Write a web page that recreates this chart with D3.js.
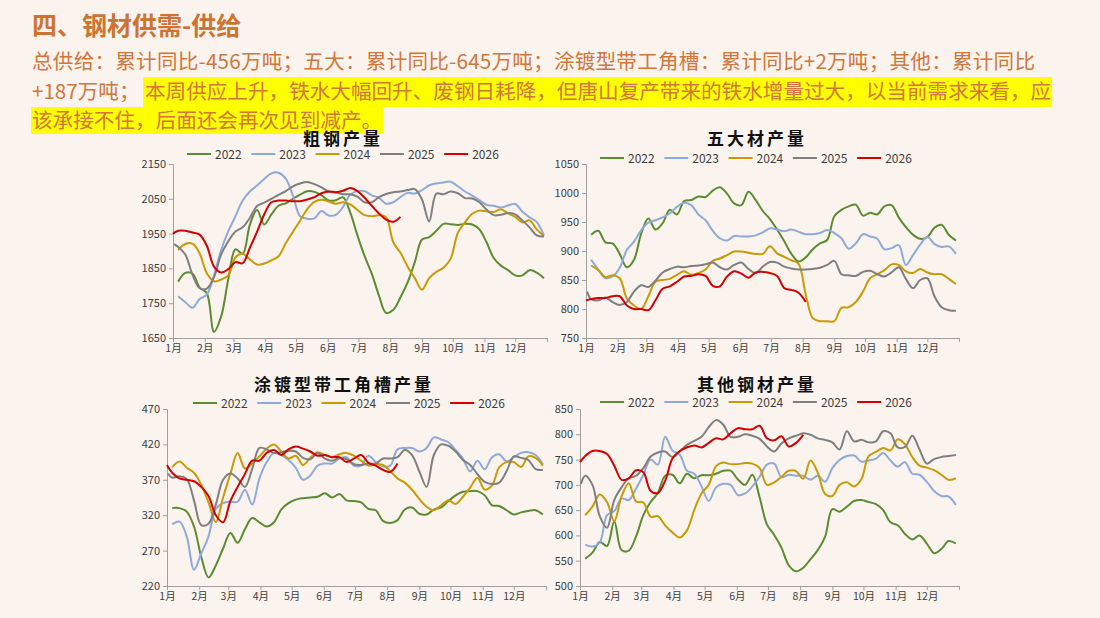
<!DOCTYPE html>
<html><head><meta charset="utf-8">
<script src="https://cdn.jsdelivr.net/npm/d3@7"></script>
<style>
html,body{margin:0;padding:0;background:#FBF3EE;}
svg{display:block;}
text{font-family:"Noto Sans CJK SC","Noto Sans",sans-serif;}
</style></head><body>
<svg id="c" width="1100" height="618"></svg>
<script>
// ---------- categories ----------
const years = ["2022","2023","2024","2025","2026"];
const monthLabels = ["1月","2月","3月","4月","5月","6月","7月","8月","9月","10月","11月","12月"];
const monthStartDays = [0,31,59,90,120,151,181,212,243,273,304,334,365];
// weekly observation day-of-year
const weekDays = [5,12,19,26,33,40,47,54,61,68,75,82,89,96,103,110,117,124,131,138,145,152,159,166,173,180,187,194,201,208,215,222,229,236,243,250,257,264,271,278,285,292,299,306,313,320,327,334,341,348,355,362];
// 2025 series has an extra first reading on day 1, 2026 on day 0
const weekDays2025 = [1,5,12,19,26,33,40,47,54,61,68,75,82,89,96,103,110,117,124,131,138,145,152,159,166,173,180,187,194,201,208,215,222,229,236,243,250,257,264,271,278,285,292,299,306,313,320,327,334,341,348,355,362];
const weekDays2026 = [0,5,12,19,26,33,40,47,54,61,68,75,82,89,96,103,110,117,124,131,138,145,152,159,166,173,180,187,194,201,208,215,222];

// ---------- 粗钢产量 ----------
const cs2022 = [1812,1837,1835,1795,1779,1668,1712,1820,1905,1892,1975,2018,1976,2005,2030,2037,2050,2062,2072,2070,2060,2045,2046,2054,2010,1945,1885,1835,1772,1722,1731,1767,1810,1868,1933,1940,1958,1978,1977,1975,1978,1976,1962,1925,1880,1858,1845,1830,1830,1845,1838,1822];
const cs2023 = [1770,1753,1737,1762,1775,1830,1903,1957,2000,2045,2071,2088,2107,2123,2125,2108,2060,2000,1993,1994,2015,2002,2004,2027,2062,2072,2072,2060,2053,2036,2040,2055,2067,2065,2075,2089,2094,2097,2099,2086,2071,2059,2046,2033,2030,2025,2031,2035,2013,1997,1983,1945];
const cs2024 = [1903,1920,1921,1893,1836,1813,1818,1830,1882,1892,1876,1861,1864,1873,1885,1922,1955,1987,2020,2041,2047,2042,2036,2040,2034,2018,2003,2000,2003,1997,1925,1895,1855,1822,1789,1822,1840,1852,1878,1952,1982,2007,2016,2014,2012,2020,2008,1998,1982,1988,1962,1943];
const cs2025 = [1920,1912,1890,1832,1793,1792,1825,1890,1928,1956,1968,1995,2029,2039,2050,2061,2072,2086,2094,2098,2092,2083,2071,2068,2063,2063,2056,2040,2040,2055,2064,2069,2071,2075,2078,2048,1985,2065,2063,2071,2066,2052,2051,2040,2019,2003,2004,2009,2005,1988,1968,1945,1942];
const cs2026 = [1950,1958,1958,1953,1947,1915,1855,1838,1848,1868,1865,1909,1955,2005,2040,2045,2045,2043,2043,2048,2055,2066,2071,2069,2073,2081,2072,2053,2030,2008,1990,1984,1998];

// ---------- 五大材产量 ----------
const fm2022 = [928,935,915,913,895,872,885,930,956,937,948,971,963,986,988,994,993,1004,1010,999,982,979,1002,988,969,955,937,917,895,882,889,903,913,919,960,971,977,980,961,966,963,977,979,958,941,928,921,924,940,945,928,918];
const fm2023 = [885,868,853,856,871,902,916,936,949,953,958,965,976,983,979,963,953,935,922,918,926,925,925,927,932,939,937,934,937,933,929,929,931,936,931,922,904,913,929,925,921,903,905,910,876,893,911,924,912,907,908,895];
const fm2024 = [875,867,855,858,853,818,806,800,822,847,850,852,859,865,859,862,868,883,887,893,899,899,897,895,895,908,896,890,884,878,825,784,779,779,779,802,803,812,830,853,860,867,877,876,865,862,869,863,860,860,852,843];
const fm2025 = [830,817,815,820,812,807,812,830,841,838,849,863,869,873,872,874,875,877,880,872,868,876,880,869,862,873,881,880,873,870,868,868,869,871,876,883,860,858,857,864,866,860,856,863,872,852,836,850,853,822,803,798,797];
const fm2026 = [815,817,819,819,822,822,806,800,800,798,815,835,839,847,856,857,860,857,840,839,856,865,861,854,863,864,862,857,836,833,828,812];

// ---------- 涂镀型带工角槽产量 ----------
const ct2022 = [330,330,325,304,261,232,249,273,295,281,300,316,310,304,310,328,337,342,344,345,346,351,345,350,341,340,338,329,327,312,309,313,328,331,322,321,328,331,340,348,353,354,354,348,334,333,327,321,324,326,327,321];
const ct2023 = [307,311,290,243,266,290,329,337,339,339,356,335,372,395,408,405,398,387,370,376,390,393,393,400,402,390,390,404,395,389,390,413,415,415,410,415,430,427,423,412,400,382,397,385,402,406,396,402,408,409,405,392];
const ct2024 = [388,396,387,380,363,338,310,345,378,408,386,393,403,414,420,410,400,404,391,401,409,405,402,406,408,404,397,390,392,391,382,372,366,356,343,332,327,334,341,336,346,359,373,356,362,388,395,395,388,403,401,390];
const ct2025 = [379,373,375,371,341,306,308,335,370,379,372,360,385,415,413,408,409,411,410,401,399,408,400,397,401,399,392,391,393,393,400,400,402,412,405,382,360,405,420,418,410,398,391,378,367,364,366,382,403,401,398,385,384];
const ct2026 = [391,380,372,370,368,360,347,320,310,340,360,378,397,397,408,412,405,413,417,414,410,404,405,402,402,395,400,405,394,390,384,381,393];

// ---------- 其他钢材产量 ----------
const ot2022 = [554,566,587,579,628,571,570,598,640,666,684,718,720,703,722,713,719,719,722,728,728,711,700,720,675,622,601,576,541,529,536,553,571,597,652,647,657,668,670,666,662,650,626,620,603,592,600,584,565,573,589,584];
const ot2023 = [582,578,586,640,648,673,670,693,720,750,740,795,768,760,728,722,697,668,695,702,700,680,683,697,716,740,742,715,720,718,718,710,718,706,733,749,757,758,746,748,752,763,748,736,745,722,720,706,688,678,677,660];
const ot2024 = [640,657,681,666,628,677,703,667,665,637,638,620,606,596,610,650,683,700,737,744,741,741,743,742,733,700,705,716,728,727,712,748,724,682,678,700,705,697,711,757,765,773,768,790,780,755,738,734,729,720,710,713];
const ot2025 = [702,718,700,638,615,670,695,713,718,733,756,764,766,755,766,779,787,795,814,828,819,795,795,800,797,791,776,766,782,792,797,802,799,792,789,784,770,806,786,789,784,786,806,802,774,775,797,770,742,751,755,757,759];
const ot2026 = [745,757,767,767,761,738,710,713,729,725,688,684,708,752,767,774,778,774,783,792,790,802,812,810,810,817,792,788,796,776,783,799];

const yTicksCS = [1650,1750,1850,1950,2050,2150];
const yTicksFM = [750,800,850,900,950,1000,1050];
const yTicksCT = [220,270,320,370,420,470];
const yTicksOT = [500,550,600,650,700,750,800,850];

const seriesDays = [weekDays, weekDays, weekDays, weekDays2025, weekDays2026];

// ---------- styles ----------
const colors = ["#5B8C32","#8EAADB","#C99A06","#7F7F7F","#D40000"];
const bg = "#FBF3EE";
const axisColor = "#A0A0A0";

const svg = d3.select("#c");
svg.append("rect").attr("width",1100).attr("height",618).attr("fill",bg);

// ---------- header ----------
const txtColor = "#D2763A";
const hdr = svg.append("g");
hdr.append("text").attr("x",32).attr("y",35).attr("font-size",25).attr("font-weight","bold")
  .attr("fill","#CF7332").text("四、钢材供需-供给");
hdr.append("text").attr("x",32).attr("y",69).attr("font-size",20.6).attr("fill",txtColor)
  .attr("textLength",1003).attr("lengthAdjust","spacing")
  .text("总供给：累计同比-456万吨；五大：累计同比-645万吨；涂镀型带工角槽：累计同比+2万吨；其他：累计同比");
const fs = 20.6;
hdr.append("text").attr("x",32).attr("y",99).attr("font-size",fs).attr("fill",txtColor).text("+187万吨；");
const l2bStr = "本周供应上升，铁水大幅回升、废钢日耗降，但唐山复产带来的铁水增量过大，以当前需求来看，应";
const l2bRect = hdr.append("rect").attr("fill","#FFFF00");
const l2b = hdr.append("text").attr("x",145).attr("y",99).attr("font-size",fs).attr("fill",txtColor).text(l2bStr);
const wB = l2b.node().getComputedTextLength();
l2bRect.attr("x",143).attr("y",77).attr("width",wB+3).attr("height",30);
const l3Rect = hdr.append("rect").attr("fill","#FFFF00");
const l3 = hdr.append("text").attr("x",32).attr("y",128).attr("font-size",fs).attr("fill",txtColor).text("该承接不住，后面还会再次见到减产。");
const wC = l3.node().getComputedTextLength();
l3Rect.attr("x",31).attr("y",107).attr("width",wC+2).attr("height",27);

// ---------- charts ----------
const charts = [
  {title:"粗钢产量", series:[cs2022,cs2023,cs2024,cs2025,cs2026], ticks:yTicksCS,
   x0:173,x1:547,y0:164,y1:338, tx:343, ty:145, lx:187, ly:154},
  {title:"五大材产量", series:[fm2022,fm2023,fm2024,fm2025,fm2026], ticks:yTicksFM,
   x0:586,x1:959,y0:164,y1:338, tx:757, ty:145, lx:600, ly:158},
  {title:"涂镀型带工角槽产量", series:[ct2022,ct2023,ct2024,ct2025,ct2026], ticks:yTicksCT,
   x0:167,x1:546,y0:409,y1:586, tx:344, ty:391, lx:193, ly:403},
  {title:"其他钢材产量", series:[ot2022,ot2023,ot2024,ot2025,ot2026], ticks:yTicksOT,
   x0:580,x1:959,y0:409,y1:586, tx:757, ty:391, lx:600, ly:402}
];

charts.forEach(c => {
  const g = svg.append("g");
  const x = d3.scaleLinear().domain([0,365]).range([c.x0,c.x1]);
  const y = d3.scaleLinear().domain(d3.extent(c.ticks)).range([c.y1,c.y0]);

  g.append("text").attr("x",c.tx).attr("y",c.ty).attr("text-anchor","middle")
    .attr("font-size",17).attr("font-weight","bold").attr("letter-spacing",3).attr("fill","#111")
    .text(c.title);

  years.forEach((yr,i) => {
    const lx = c.lx + i*64.3;
    g.append("line").attr("x1",lx).attr("x2",lx+24).attr("y1",c.ly).attr("y2",c.ly)
      .attr("stroke",colors[i]).attr("stroke-width",2);
    g.append("text").attr("x",lx+28).attr("y",c.ly+4.5).attr("font-size",12).attr("fill","#404040").text(yr);
  });

  const ya = g.append("g").attr("transform",`translate(${c.x0},0)`)
    .call(d3.axisLeft(y).tickValues(c.ticks).tickSize(4).tickPadding(3).tickFormat(d3.format("d")));
  ya.select(".domain").attr("stroke",axisColor);
  ya.selectAll(".tick line").attr("stroke",axisColor);
  ya.selectAll(".tick text").attr("font-size",11).attr("fill","#404040")
    .attr("font-family","'Noto Sans CJK SC',sans-serif");

  const xa = g.append("g").attr("transform",`translate(0,${c.y1})`)
    .call(d3.axisBottom(x).tickValues(monthStartDays).tickSize(4).tickPadding(3)
      .tickFormat((d,i) => i < monthLabels.length ? monthLabels[i] : ""));
  xa.select(".domain").attr("stroke",axisColor);
  xa.selectAll(".tick line").attr("stroke",axisColor);
  xa.selectAll(".tick text").attr("font-size",10.5).attr("fill","#404040")
    .attr("font-family","'Noto Sans CJK SC',sans-serif");

  c.series.forEach((s,i) => {
    const days = seriesDays[i];
    const line = d3.line().x((d,j) => x(days[j])).y(d => y(d)).curve(d3.curveCatmullRom.alpha(0.5));
    g.append("path").datum(s).attr("d",line).attr("fill","none")
      .attr("stroke",colors[i]).attr("stroke-width",2).attr("stroke-linejoin","round");
  });
});
</script>
</body></html>
